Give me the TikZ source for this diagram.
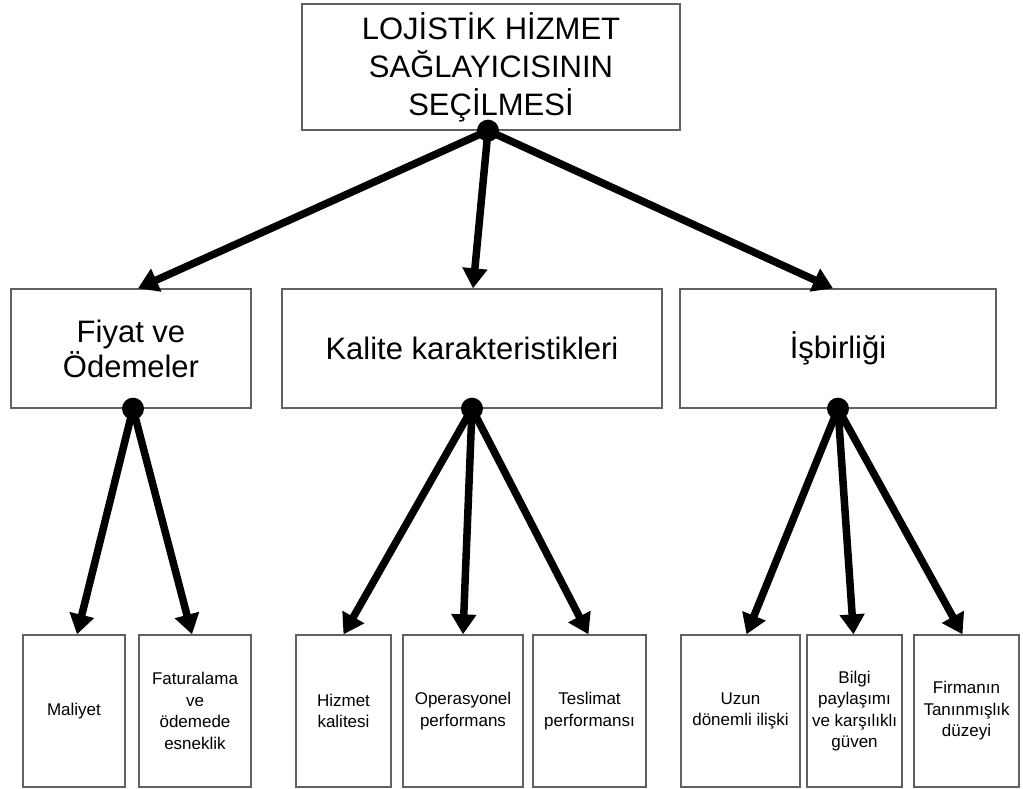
\documentclass[tikz,border=0pt]{standalone}
\usepackage{fontspec}
\setmainfont{Liberation Sans}
\usetikzlibrary{arrows.meta}
\begin{document}
\begin{tikzpicture}[x=1pt,y=-1pt,
  box/.style={draw=black!62, line width=1.3pt, fill=white, inner sep=0pt, align=center},
  big/.style={box, font=\fontsize{31}{38}\selectfont},
  mid/.style={box, font=\fontsize{31}{35}\selectfont, minimum height=119pt},
  small/.style={box, font=\fontsize{17}{21.5}\selectfont, minimum height=152pt},
  arr/.style={line width=7.5pt, -{Triangle[length=20pt,width=24pt]}},
  dotc/.style={fill=black, circle, inner sep=0pt, minimum size=22pt}]
\useasboundingbox (0,0) rectangle (1023,789);
% boxes
\node[big, minimum width=378pt, minimum height=126pt] (top) at (491,67) {LOJİSTİK HİZMET\\SAĞLAYICISININ\\SEÇİLMESİ};
\node[mid, minimum width=240pt] (m1) at (131,348.5) {Fiyat ve\\Ödemeler};
\node[mid, minimum width=380pt] (m2) at (472,348.5) {Kalite karakteristikleri};
\node[mid, minimum width=316pt] (m3) at (838,348.5) {İşbirliği};
\node[small, minimum width=102pt] (b1) at (74,711) {Maliyet};
\node[small, minimum width=112pt] (b2) at (195,711) {Faturalama\\ve\\ödemede\\esneklik};
\node[small, minimum width=95pt] (b3) at (343.5,711) {Hizmet\\kalitesi};
\node[small, minimum width=120pt] (b4) at (463,711) {Operasyonel\\performans};
\node[small, minimum width=113pt] (b5) at (589.5,711) {Teslimat\\performansı};
\node[small, minimum width=119pt] (b6) at (740.5,711) {Uzun\\dönemli ilişki};
\node[small, minimum width=95pt] (b7) at (854.5,711) {Bilgi\\paylaşımı\\ve karşılıklı\\güven};
\node[small, minimum width=105pt] (b8) at (966.5,711) {Firmanın\\Tanınmışlık\\düzeyi};
% dot positions
\coordinate (dt) at ([xshift=-3pt]top.south);
\coordinate (d1) at ([xshift=2pt]m1.south);
\coordinate (d2) at (m2.south);
\coordinate (d3) at (m3.south);
% arrows
\draw[arr] (dt) -- ([xshift=7pt]m1.north);
\draw[arr] (dt) -- ([xshift=1pt]m2.north);
\draw[arr] (dt) -- ([xshift=-5pt]m3.north);
\draw[arr] (d1) -- ([xshift=3pt]b1.north);
\draw[arr] (d1) -- ([xshift=-3pt]b2.north);
\draw[arr] (d2) -- (b3.north);
\draw[arr] (d2) -- (b4.north);
\draw[arr] (d2) -- ([xshift=-1pt]b5.north);
\draw[arr] (d3) -- ([xshift=6pt]b6.north);
\draw[arr] (d3) -- ([xshift=-1pt]b7.north);
\draw[arr] (d3) -- ([xshift=-4pt]b8.north);
% dots
\node[dotc] (dotT) at (dt) {};
\node[dotc] (dot1) at (d1) {};
\node[dotc] (dot2) at (d2) {};
\node[dotc] (dot3) at (d3) {};
\end{tikzpicture}
\end{document}
